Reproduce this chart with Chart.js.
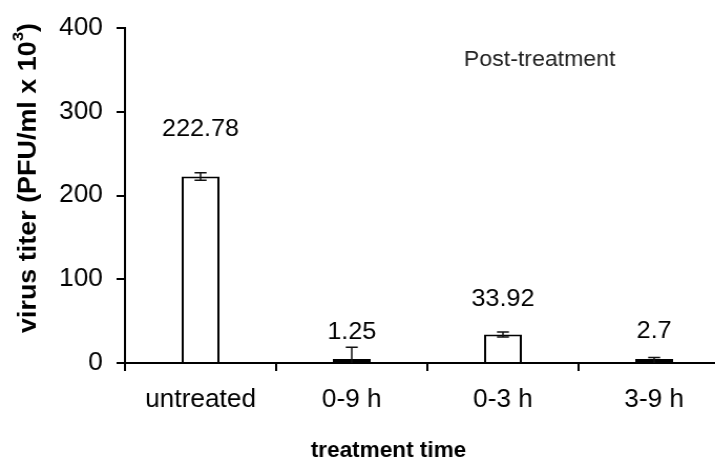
<!DOCTYPE html>
<html>
<head>
<meta charset="utf-8">
<script src="https://cdn.jsdelivr.net/npm/chart.js@4.4.1/dist/chart.umd.min.js"></script>
<style>
  html, body { margin: 0; padding: 0; background: #fff; overflow: hidden; }
  /* the reference is a little stretched sideways, so draw narrow and widen */
  #wrap { width: 695px; height: 463px; transform: scaleX(1.05); transform-origin: 0 0; }
</style>
</head>
<body>
<div id="wrap"><canvas id="chart"></canvas></div>
<script>
// data
const categories = ["untreated", "0-9 h", "0-3 h", "3-9 h"];
const titers = [222.78, 1.25, 33.92, 2.7];
const titerErrors = [4.5, 17.5, 3, 4];
const valueLabels = ["222.78", "1.25", "33.92", "2.7"];
const yMin = 0, yMax = 400, yStep = 100;

const FONT = '"Liberation Sans", Arial, sans-serif';

// error bars, value labels, note and axis titles
const extras = {
    id: 'extras',
    afterDatasetsDraw(chart, args, opts) {
        const ctx = chart.ctx;
        const meta = chart.getDatasetMeta(0);
        const y = chart.scales.y;
        ctx.save();

        // error bars
        ctx.strokeStyle = '#111';
        ctx.lineWidth = 1.5;
        meta.data.forEach((bar, i) => {
            const hi = titers[i] + titerErrors[i];
            const lo = Math.max(titers[i] - titerErrors[i], 0);
            const top = y.getPixelForValue(hi);
            const bottom = y.getPixelForValue(lo);
            ctx.beginPath();
            ctx.moveTo(bar.x, top);
            ctx.lineTo(bar.x, bottom);
            ctx.moveTo(bar.x - opts.cap, top);
            ctx.lineTo(bar.x + opts.cap, top);
            if (lo > 0) {
                ctx.moveTo(bar.x - opts.cap, bottom);
                ctx.lineTo(bar.x + opts.cap, bottom);
            }
            ctx.stroke();
        });

        // numbers above the bars
        ctx.fillStyle = '#000';
        ctx.font = '24px ' + FONT;
        ctx.textAlign = 'center';
        ctx.textBaseline = 'middle';
        meta.data.forEach((bar, i) => {
            const topPx = y.getPixelForValue(titers[i]);
            ctx.fillText(valueLabels[i], bar.x, topPx - opts.lift[i]);
        });

        // note
        ctx.fillStyle = '#222';
        ctx.font = '22px ' + FONT;
        ctx.fillText('Post-treatment', 514, 60);

        // x title
        ctx.fillStyle = '#000';
        ctx.font = 'bold 21.5px ' + FONT;
        ctx.fillText('treatment time', 370, 451);

        // y title with superscript
        const main = 'virus titer (PFU/ml x 10', sup = '3', tail = ')';
        ctx.font = 'bold 24px ' + FONT;
        const w1 = ctx.measureText(main).width;
        const w3 = ctx.measureText(tail).width;
        ctx.font = 'bold 15px ' + FONT;
        const w2 = ctx.measureText(sup).width;
        const total = w1 + w2 + w3;
        const k = opts.yTitleLength / total;
        ctx.translate(27, 178);
        ctx.rotate(-Math.PI / 2);
        ctx.scale(k, 1);
        ctx.textAlign = 'left';
        const x0 = -total / 2;
        ctx.font = 'bold 24px ' + FONT;
        ctx.fillText(main, x0, 0);
        ctx.font = 'bold 15px ' + FONT;
        ctx.fillText(sup, x0 + w1, -9);
        ctx.font = 'bold 24px ' + FONT;
        ctx.fillText(tail, x0 + w1 + w2, 0);

        ctx.restore();
    }
};

const chart = new Chart(document.getElementById('chart'), {
    type: 'bar',
    data: {
        labels: categories,
        datasets: [{
            data: titers,
            backgroundColor: '#fff',
            borderColor: '#000',
            borderWidth: 2,
            // tiny bars get a full outline so they show as a thick dash
            borderSkipped: (c) => titers[c.dataIndex] < 10 ? false : 'start',
            minBarLength: 4,
            barPercentage: 0.25,
            categoryPercentage: 1
        }]
    },
    options: {
        responsive: true,
        maintainAspectRatio: false,
        animation: false,
        layout: { padding: { top: 17, right: 0, bottom: 0, left: 0 } },
        plugins: {
            legend: { display: false },
            tooltip: { enabled: false },
            extras: { cap: 5.7, lift: [47, 30, 35, 29], yTitleLength: 310 }
        },
        scales: {
            x: {
                grid: { drawOnChartArea: false, color: '#000', lineWidth: 2, tickLength: 8, offset: true },
                border: { color: '#000', width: 2 },
                ticks: { color: '#000', font: { family: FONT, size: 25 }, padding: 14, maxRotation: 0 },
                afterFit(scale) { scale.height = 100; }
            },
            y: {
                min: yMin,
                max: yMax,
                grid: { drawOnChartArea: false, color: '#000', lineWidth: 2, tickLength: 8 },
                border: { color: '#000', width: 2 },
                ticks: { stepSize: yStep, color: '#000', font: { family: FONT, size: 25 }, padding: 13 },
                afterFit(scale) { scale.width = 119; }
            }
        }
    },
    plugins: [extras]
});
</script>
</body>
</html>
